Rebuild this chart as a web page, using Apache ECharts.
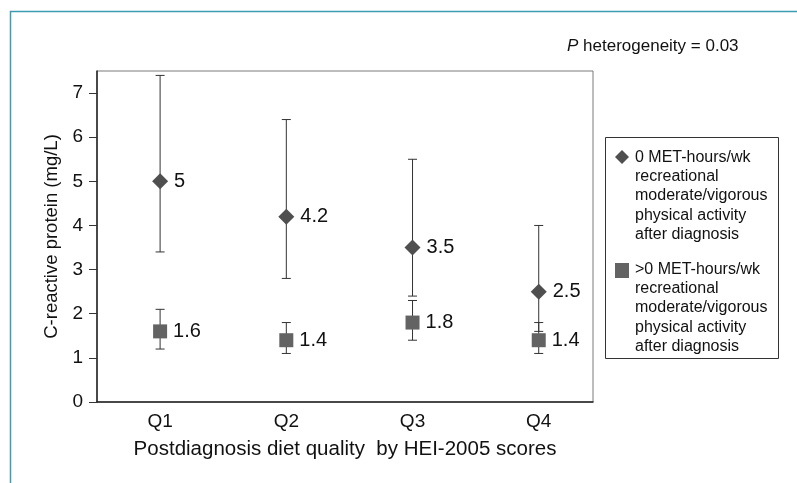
<!DOCTYPE html>
<html>
<head>
<meta charset="utf-8">
<script src="https://cdn.jsdelivr.net/npm/echarts@6/dist/echarts.min.js"></script>
<style>
html,body{margin:0;padding:0;background:#fff;}
#chart{width:797px;height:483px;}
</style>
</head>
<body>
<div id="chart"></div>
<script>
// ---- data ----
var categories = ['Q1', 'Q2', 'Q3', 'Q4'];
var yTicks = [0, 1, 2, 3, 4, 5, 6, 7];
var noActMean = [5, 4.2, 3.5, 2.5];
var noActLow = [3.4, 2.8, 2.4, 1.6];
var noActHigh = [7.4, 6.4, 5.5, 4.0];
var actMean = [1.6, 1.4, 1.8, 1.4];
var actLow = [1.2, 1.1, 1.4, 1.1];
var actHigh = [2.1, 1.8, 2.3, 1.8];
var seriesNames = [
  '0 MET-hours/wk\nrecreational\nmoderate/vigorous\nphysical activity\nafter diagnosis',
  '>0 MET-hours/wk\nrecreational\nmoderate/vigorous\nphysical activity\nafter diagnosis'
];
var annotation = 'heterogeneity = 0.03';

var FONT = '"Liberation Sans", Arial, Helvetica, sans-serif';
var TXT = '#111';
var chart = echarts.init(document.getElementById('chart'));

function pts(mean) { return mean.map(function (v, i) { return [i + 1, v]; }); }
function errData(low, high) { return low.map(function (v, i) { return [i + 1, v, high[i]]; }); }

function errRender(params, api) {
  var x = api.value(0);
  var lo = api.coord([x, api.value(1)]);
  var hi = api.coord([x, api.value(2)]);
  var cap = 4.5;
  var st = { stroke: '#333', lineWidth: 1 };
  return {
    type: 'group',
    children: [
      { type: 'line', shape: { x1: lo[0], y1: lo[1], x2: hi[0], y2: hi[1] }, style: st },
      { type: 'line', shape: { x1: lo[0] - cap, y1: lo[1], x2: lo[0] + cap, y2: lo[1] }, style: st },
      { type: 'line', shape: { x1: hi[0] - cap, y1: hi[1], x2: hi[0] + cap, y2: hi[1] }, style: st }
    ]
  };
}

var labelCfg = {
  show: true, position: 'right', distance: 6,
  color: TXT, fontSize: 20, fontFamily: FONT,
  formatter: function (p) { return String(p.value[1]); }
};

var option = {
  animation: false,
  backgroundColor: '#fff',
  textStyle: { fontFamily: FONT },
  grid: { left: 97, top: 71, right: 204, bottom: 81, show: true, borderColor: '#7a7a7a', borderWidth: 1 },
  xAxis: {
    type: 'value', min: 0.5, max: 4.43,
    name: 'Postdiagnosis diet quality  by HEI-2005 scores',
    nameLocation: 'middle', nameGap: 37,
    nameTextStyle: { fontSize: 20.5, color: TXT, fontFamily: FONT },
    axisLine: { show: true, lineStyle: { color: '#222', width: 1.5 } },
    axisTick: { show: false },
    splitLine: { show: false },
    axisLabel: {
      customValues: [1, 2, 3, 4], margin: 10,
      fontSize: 19, color: TXT, fontFamily: FONT,
      formatter: function (v) { return categories[Math.round(v) - 1]; }
    }
  },
  yAxis: {
    type: 'value', min: 0, max: 7.5,
    name: 'C-reactive protein (mg/L)',
    nameLocation: 'middle', nameGap: 36, nameRotate: 90,
    nameTextStyle: { fontSize: 18.5, color: TXT, fontFamily: FONT },
    axisLine: { show: true, lineStyle: { color: '#222', width: 1.5 } },
    axisTick: { show: true, customValues: yTicks, length: 8, lineStyle: { color: '#333' } },
    splitLine: { show: false },
    axisLabel: { customValues: yTicks, margin: 14, fontSize: 19, color: TXT, fontFamily: FONT }
  },
  series: [
    { type: 'custom', renderItem: errRender, data: errData(noActLow, noActHigh), encode: { x: 0, y: [1, 2] }, z: 2 },
    { type: 'custom', renderItem: errRender, data: errData(actLow, actHigh), encode: { x: 0, y: [1, 2] }, z: 2 },
    {
      name: seriesNames[0], type: 'scatter', symbol: 'diamond', symbolSize: [16, 16],
      itemStyle: { color: '#4f4f4f', opacity: 1 }, data: pts(noActMean), label: labelCfg, z: 3
    },
    {
      name: seriesNames[1], type: 'scatter', symbol: 'rect', symbolSize: [14, 14],
      itemStyle: { color: '#636363', opacity: 1 }, data: pts(actMean), label: labelCfg, z: 3
    }
  ],
  graphic: [
    { type: 'rect', shape: { x: 10.5, y: 11.5, width: 820, height: 500 }, style: { fill: 'none', stroke: '#3d9db0', lineWidth: 1.5 }, silent: true },
    {
      type: 'text', x: 567, y: 38,
      style: {
        text: '{i|P} ' + annotation,
        fontSize: 17, fontFamily: FONT, fill: TXT,
        rich: { i: { fontStyle: 'italic', fontSize: 17, fontFamily: FONT, fill: TXT } }
      }
    },
    { type: 'rect', shape: { x: 605.5, y: 137.5, width: 173, height: 221 }, style: { fill: '#fff', stroke: '#333', lineWidth: 1 } },
    { type: 'polygon', shape: { points: [[622, 150], [629, 157], [622, 164], [615, 157]] }, style: { fill: '#4f4f4f' } },
    { type: 'rect', shape: { x: 615, y: 263, width: 14, height: 15 }, style: { fill: '#636363' } },
    { type: 'text', x: 635, y: 148, style: { text: seriesNames[0], fontSize: 16, lineHeight: 19.2, fontFamily: FONT, fill: TXT } },
    { type: 'text', x: 635, y: 260, style: { text: seriesNames[1], fontSize: 16, lineHeight: 19.2, fontFamily: FONT, fill: TXT } }
  ]
};
chart.setOption(option);
</script>
</body>
</html>
